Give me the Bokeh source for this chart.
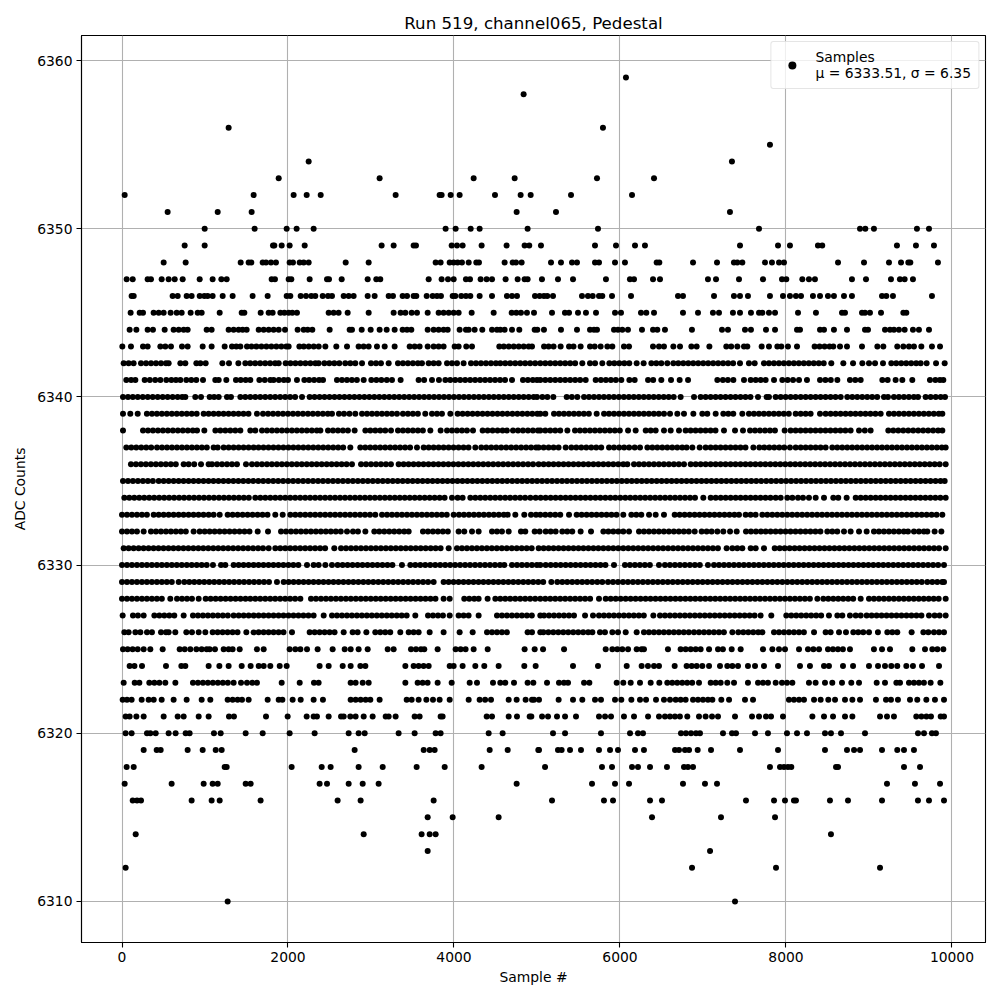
from bokeh.plotting import figure
from bokeh.embed import file_html
from bokeh.resources import INLINE
from bokeh.models import FixedTicker, Range1d, Legend, LegendItem, ColumnDataSource
from bokeh.core.properties import value

title = "Run 519, channel065, Pedestal"
x_label = "Sample #"
y_label = "ADC Counts"
legend_text = "Samples\n\u03bc = 6333.51, \u03c3 = 6.35"
x_ticks = [0, 2000, 4000, 6000, 8000, 10000]
y_ticks = [6310, 6320, 6330, 6340, 6350, 6360]

# Samples, one list per ADC count level
r6359 = [6072]
r6358 = [4839]
r6356 = [1285, 5795]
r6355 = [7807]
r6354 = [2249, 7349]
r6353 = [1888, 3104, 4237, 4731, 5723, 6410]
r6352 = [32, 1586, 2068, 2225, 2394, 3297, 3827, 3851, 3960, 4068, 4494, 4803, 4924, 5410, 6145]
r6351 = [550, 1153, 1562, 4755, 5229, 7325]
r6350 = [996, 1598, 1984, 2104, 2309, 3899, 4020, 4201, 4309, 4887, 5735, 7675, 8892, 8956, 9060, 9578, 9723]
r6349 = [755, 996, 1819, 1835, 1924, 2020, 2201, 3128, 3273, 3514, 3542, 3972, 4036, 4104, 4333, 4634, 4851, 4907, 5048, 5699, 5952, 6181, 6301, 7446, 7904, 8048, 8385, 8437, 9337, 9566, 9783]
r6348 = [502, 767, 1430, 1526, 1558, 1695, 1735, 1795, 1855, 2020, 2060, 2141, 2189, 2249, 2695, 2972, 3779, 3839, 3948, 3996, 4044, 4096, 4177, 4269, 4301, 4610, 4707, 4747, 4815, 5169, 5289, 5422, 5482, 5699, 5747, 5940, 6060, 6442, 6474, 6880, 7169, 7373, 7414, 7474, 7747, 7831, 7916, 7976, 8627, 8940, 9241, 9386, 9474, 9498, 9831]
r6347 = [56, 129, 309, 349, 478, 562, 635, 731, 936, 1092, 1197, 1261, 1803, 1843, 2008, 2040, 2261, 2470, 2494, 2647, 2960, 3064, 3112, 3695, 3851, 3928, 3996, 4144, 4193, 4321, 4393, 4458, 4622, 4767, 4851, 4887, 5060, 5253, 5434, 5831, 6120, 6169, 6398, 6482, 7060, 7157, 7434, 7723, 7952, 8004, 8197, 8277, 8349, 8795, 8964, 9265, 9373, 9430, 9530]
r6346 = [116, 141, 610, 671, 779, 839, 936, 992, 1032, 1092, 1213, 1333, 1574, 1755, 1984, 2028, 2153, 2217, 2281, 2329, 2418, 2482, 2530, 2671, 2731, 2791, 2960, 3044, 3213, 3265, 3381, 3434, 3514, 3546, 3671, 3743, 3795, 3843, 3984, 4016, 4088, 4144, 4197, 4309, 4458, 4638, 4699, 4759, 4976, 5032, 5084, 5124, 5193, 5542, 5614, 5671, 5747, 5787, 5904, 6133, 6699, 6759, 7133, 7373, 7446, 7542, 7807, 7964, 8048, 8120, 8181, 8325, 8410, 8506, 8578, 8699, 8795, 9157, 9209, 9289, 9759]
r6345 = [104, 213, 253, 381, 442, 502, 586, 659, 719, 827, 912, 960, 1177, 1442, 1474, 1671, 1767, 1815, 1908, 1956, 2008, 2052, 2108, 2490, 2550, 2610, 2719, 2972, 3273, 3357, 3414, 3490, 3554, 3683, 3815, 3875, 3936, 3996, 4056, 4213, 4478, 4695, 4751, 4807, 4879, 4964, 5181, 5337, 5386, 5494, 5590, 5711, 5940, 6012, 6253, 6317, 6410, 6759, 6940, 7120, 7193, 7361, 7446, 7578, 7675, 7715, 7795, 7868, 8145, 8361, 8675, 8711, 8916, 8952, 9012, 9145, 9414, 9450]
r6344 = [92, 173, 309, 373, 514, 622, 683, 743, 791, 1020, 1080, 1285, 1345, 1405, 1454, 1502, 1647, 1707, 1767, 1827, 1888, 1964, 2116, 2189, 2237, 2293, 2502, 2743, 2771, 2888, 2996, 3104, 3189, 3285, 3381, 3434, 3486, 3683, 3755, 3815, 3875, 3924, 4068, 4144, 4177, 4249, 4341, 4458, 4518, 4558, 4610, 4699, 4787, 4972, 5004, 5084, 5289, 5482, 5639, 5687, 5723, 5928, 5976, 6028, 6096, 6265, 6398, 6450, 6542, 6867, 7229, 7301, 7506, 7578, 7759, 7868, 8133, 8169, 8410, 8458, 8578, 8735, 8952, 8988, 9193, 9253, 9301, 9361, 9430, 9530, 9602, 9723]
r6343 = [4, 108, 253, 309, 462, 522, 590, 723, 791, 972, 1080, 1237, 1325, 1377, 1426, 1506, 1560, 1620, 1680, 1740, 1800, 1860, 1920, 1980, 2008, 2137, 2190, 2250, 2310, 2370, 2450, 2582, 2711, 2851, 2911, 2972, 3072, 3165, 3285, 3466, 3526, 3586, 3683, 3755, 3815, 3875, 4008, 4056, 4148, 4217, 4546, 4600, 4660, 4720, 4780, 4840, 4900, 4940, 5085, 5140, 5200, 5285, 5386, 5440, 5526, 5639, 5695, 5767, 5848, 5908, 6048, 6109, 6398, 6470, 6530, 6643, 6723, 6860, 6924, 7077, 7281, 7340, 7414, 7494, 7534, 7707, 7795, 7896, 7944, 8024, 8133, 8345, 8405, 8465, 8525, 8570, 8651, 8735, 8916, 9101, 9173, 9341, 9414, 9482, 9542, 9631, 9759, 9856]
r6342 = [20, 80, 140, 229, 290, 350, 410, 470, 530, 562, 703, 763, 896, 944, 1008, 1209, 1289, 1402, 1486, 1545, 1605, 1665, 1725, 1785, 1845, 1888, 1972, 2030, 2090, 2150, 2210, 2270, 2330, 2369, 2438, 2498, 2558, 2618, 2690, 2751, 2811, 2892, 3000, 3060, 3120, 3213, 3325, 3385, 3445, 3505, 3565, 3614, 3695, 3755, 3815, 3916, 3976, 4036, 4116, 4205, 4265, 4325, 4385, 4445, 4505, 4558, 4618, 4678, 4738, 4798, 4858, 4918, 4978, 5040, 5100, 5160, 5220, 5280, 5340, 5400, 5460, 5546, 5639, 5700, 5787, 5872, 5932, 5992, 6052, 6112, 6201, 6285, 6378, 6438, 6498, 6570, 6643, 6703, 6763, 6823, 6883, 6943, 7003, 7063, 7123, 7183, 7243, 7303, 7363, 7446, 7554, 7623, 7735, 7795, 7855, 7915, 7975, 8035, 8095, 8155, 8215, 8275, 8335, 8395, 8455, 8546, 8691, 8808, 8920, 9000, 9073, 9169, 9269, 9329, 9389, 9449, 9509, 9569, 9623, 9695, 9808, 9912]
r6341 = [52, 110, 161, 273, 335, 400, 462, 534, 595, 650, 703, 775, 835, 895, 976, 1124, 1165, 1257, 1373, 1430, 1490, 1546, 1655, 1720, 1787, 1827, 1890, 1950, 2000, 2108, 2197, 2255, 2315, 2375, 2422, 2590, 2650, 2710, 2770, 2830, 2912, 3004, 3065, 3125, 3190, 3253, 3357, 3574, 3640, 3735, 3819, 3896, 3955, 4015, 4075, 4135, 4195, 4255, 4315, 4375, 4435, 4495, 4555, 4615, 4699, 4831, 4890, 4950, 5000, 5040, 5100, 5160, 5220, 5280, 5340, 5400, 5460, 5520, 5587, 5707, 5770, 5830, 5890, 5950, 6016, 6113, 6177, 6338, 6400, 6498, 6615, 6719, 6820, 7173, 7240, 7300, 7366, 7494, 7575, 7635, 7695, 7755, 7856, 7956, 8020, 8085, 8157, 8253, 8410, 8475, 8540, 8619, 8771, 8835, 8900, 9161, 9225, 9321, 9402, 9522, 9735, 9800, 9855, 9896]
r6340 = [12, 72, 130, 190, 250, 310, 370, 430, 490, 550, 610, 670, 725, 763, 883, 952, 1056, 1110, 1165, 1265, 1313, 1426, 1486, 1546, 1606, 1666, 1726, 1786, 1846, 1906, 1966, 2026, 2086, 2169, 2261, 2320, 2380, 2440, 2500, 2560, 2620, 2680, 2740, 2800, 2860, 2920, 2980, 3040, 3100, 3160, 3220, 3280, 3340, 3400, 3460, 3520, 3580, 3640, 3700, 3760, 3820, 3880, 3940, 4000, 4060, 4120, 4180, 4240, 4300, 4360, 4420, 4480, 4540, 4600, 4660, 4720, 4780, 4840, 4900, 4960, 5000, 5065, 5125, 5197, 5358, 5420, 5486, 5567, 5627, 5687, 5747, 5807, 5867, 5927, 5987, 6047, 6107, 6167, 6227, 6287, 6347, 6407, 6467, 6527, 6587, 6647, 6731, 6892, 6972, 7032, 7092, 7152, 7212, 7272, 7332, 7392, 7452, 7512, 7572, 7663, 7767, 7795, 7876, 7936, 7996, 8056, 8116, 8177, 8237, 8297, 8357, 8417, 8477, 8537, 8597, 8659, 8739, 8799, 8859, 8919, 8979, 9039, 9099, 9181, 9229, 9301, 9361, 9421, 9481, 9541, 9591, 9683, 9743, 9804, 9864, 9916]
r6339 = [12, 100, 189, 300, 361, 420, 480, 540, 600, 660, 720, 780, 840, 900, 984, 1044, 1104, 1164, 1224, 1284, 1344, 1404, 1464, 1524, 1626, 1699, 1760, 1820, 1880, 1940, 2000, 2060, 2120, 2180, 2240, 2300, 2360, 2420, 2480, 2530, 2614, 2675, 2740, 2811, 2892, 2952, 3012, 3072, 3132, 3192, 3252, 3313, 3385, 3445, 3505, 3565, 3654, 3735, 3795, 3855, 3956, 4044, 4104, 4164, 4224, 4284, 4344, 4404, 4464, 4524, 4584, 4644, 4704, 4764, 4824, 4884, 4944, 5004, 5040, 5100, 5205, 5265, 5325, 5385, 5445, 5505, 5565, 5625, 5719, 5808, 5868, 5928, 5988, 6048, 6108, 6168, 6228, 6288, 6348, 6408, 6468, 6530, 6603, 6691, 6771, 6884, 6992, 7052, 7153, 7245, 7305, 7365, 7474, 7554, 7614, 7674, 7734, 7794, 7854, 7914, 7974, 8034, 8117, 8177, 8237, 8297, 8410, 8478, 8538, 8598, 8658, 8718, 8778, 8838, 8898, 8958, 9018, 9078, 9141, 9241, 9301, 9361, 9421, 9481, 9541, 9601, 9661, 9721, 9781, 9841, 9884]
r6338 = [12, 253, 313, 373, 433, 493, 553, 613, 673, 733, 793, 853, 904, 992, 1125, 1185, 1245, 1305, 1365, 1426, 1546, 1606, 1687, 1747, 1807, 1867, 1927, 1987, 2047, 2107, 2167, 2227, 2287, 2347, 2390, 2482, 2542, 2602, 2662, 2722, 2803, 2932, 2992, 3052, 3112, 3172, 3241, 3325, 3385, 3445, 3505, 3565, 3625, 3715, 3839, 3916, 3976, 4036, 4096, 4156, 4229, 4345, 4405, 4465, 4525, 4585, 4638, 4711, 4771, 4831, 4891, 4951, 5011, 5040, 5100, 5160, 5220, 5280, 5366, 5458, 5518, 5578, 5638, 5698, 5758, 5818, 5878, 5938, 5998, 6097, 6189, 6310, 6370, 6430, 6530, 6611, 6711, 6791, 6851, 6911, 6971, 7031, 7091, 7151, 7253, 7386, 7482, 7567, 7627, 7687, 7747, 7807, 7867, 7984, 8056, 8116, 8176, 8236, 8296, 8356, 8416, 8476, 8536, 8596, 8656, 8716, 8779, 8880, 8950, 9020, 9233, 9293, 9353, 9413, 9473, 9533, 9593, 9653, 9713, 9773, 9833, 9884]
r6337 = [52, 112, 172, 232, 292, 352, 422, 482, 542, 602, 662, 722, 782, 842, 902, 962, 1022, 1104, 1153, 1225, 1285, 1345, 1405, 1465, 1525, 1585, 1645, 1705, 1765, 1825, 1885, 1945, 2005, 2065, 2125, 2185, 2245, 2305, 2365, 2425, 2485, 2545, 2605, 2665, 2751, 2871, 2931, 2991, 3051, 3111, 3171, 3231, 3291, 3351, 3411, 3471, 3554, 3635, 3695, 3755, 3815, 3875, 3935, 3995, 4055, 4115, 4175, 4257, 4329, 4389, 4449, 4509, 4569, 4629, 4689, 4749, 4809, 4869, 4929, 4989, 5020, 5080, 5140, 5200, 5260, 5346, 5414, 5474, 5534, 5594, 5654, 5714, 5774, 5868, 5928, 5990, 6050, 6110, 6177, 6241, 6330, 6390, 6450, 6510, 6570, 6630, 6690, 6750, 6803, 6872, 6960, 7032, 7092, 7152, 7212, 7272, 7332, 7392, 7452, 7512, 7607, 7679, 7739, 7799, 7859, 7919, 7979, 8048, 8117, 8177, 8237, 8297, 8357, 8417, 8478, 8558, 8618, 8678, 8738, 8798, 8858, 8918, 8978, 9038, 9098, 9158, 9218, 9278, 9338, 9398, 9458, 9518, 9578, 9638, 9698, 9758, 9818, 9878, 9924]
r6336 = [108, 168, 228, 288, 348, 408, 468, 528, 588, 648, 743, 803, 870, 952, 1044, 1084, 1145, 1205, 1265, 1325, 1385, 1494, 1566, 1626, 1686, 1746, 1806, 1866, 1926, 1986, 2046, 2106, 2166, 2226, 2286, 2346, 2406, 2466, 2526, 2586, 2646, 2706, 2771, 2880, 2940, 3000, 3060, 3120, 3180, 3240, 3333, 3393, 3453, 3513, 3573, 3633, 3693, 3753, 3813, 3873, 3933, 3993, 4053, 4113, 4173, 4233, 4293, 4353, 4413, 4473, 4533, 4593, 4653, 4713, 4773, 4833, 4893, 4953, 5020, 5080, 5140, 5200, 5260, 5320, 5380, 5440, 5500, 5560, 5620, 5680, 5740, 5800, 5860, 5920, 5980, 6040, 6089, 6169, 6229, 6289, 6349, 6409, 6469, 6529, 6589, 6649, 6709, 6771, 6852, 6912, 6972, 7032, 7092, 7152, 7212, 7272, 7332, 7392, 7452, 7512, 7572, 7632, 7692, 7752, 7812, 7872, 7932, 7992, 8052, 8112, 8172, 8232, 8292, 8352, 8412, 8472, 8532, 8592, 8652, 8712, 8772, 8832, 8892, 8952, 9012, 9072, 9132, 9192, 9252, 9312, 9372, 9432, 9492, 9552, 9612, 9672, 9732, 9792, 9852, 9924]
r6335 = [12, 72, 132, 192, 252, 312, 372, 442, 502, 562, 622, 682, 742, 802, 862, 922, 982, 1042, 1102, 1162, 1222, 1282, 1342, 1402, 1462, 1522, 1582, 1642, 1702, 1762, 1822, 1882, 1942, 2002, 2062, 2122, 2182, 2242, 2302, 2362, 2422, 2482, 2542, 2602, 2662, 2722, 2782, 2842, 2902, 2962, 3022, 3082, 3142, 3202, 3262, 3322, 3382, 3442, 3502, 3562, 3622, 3682, 3742, 3802, 3862, 3922, 3982, 4042, 4102, 4162, 4222, 4282, 4342, 4402, 4462, 4522, 4582, 4642, 4702, 4762, 4822, 4882, 4942, 5002, 5062, 5122, 5182, 5242, 5302, 5362, 5422, 5482, 5542, 5602, 5662, 5722, 5782, 5842, 5902, 5962, 6022, 6082, 6142, 6202, 6262, 6322, 6382, 6442, 6502, 6562, 6622, 6682, 6742, 6802, 6862, 6922, 6982, 7042, 7102, 7162, 7222, 7282, 7342, 7402, 7462, 7522, 7582, 7642, 7702, 7762, 7822, 7882, 7942, 8002, 8062, 8122, 8182, 8242, 8302, 8362, 8422, 8482, 8542, 8602, 8662, 8722, 8782, 8842, 8902, 8962, 9022, 9082, 9142, 9202, 9262, 9322, 9382, 9442, 9502, 9562, 9622, 9682, 9742, 9802, 9862, 9912]
r6334 = [28, 88, 148, 208, 268, 328, 388, 448, 508, 568, 628, 688, 748, 808, 868, 928, 988, 1048, 1108, 1168, 1228, 1288, 1348, 1408, 1468, 1528, 1606, 1667, 1727, 1787, 1847, 1907, 1967, 2027, 2087, 2147, 2207, 2267, 2327, 2387, 2447, 2507, 2567, 2627, 2687, 2747, 2807, 2867, 2927, 2987, 3047, 3107, 3167, 3227, 3287, 3347, 3407, 3467, 3527, 3587, 3647, 3707, 3767, 3827, 3887, 3976, 4044, 4104, 4197, 4257, 4317, 4377, 4437, 4497, 4557, 4617, 4677, 4737, 4797, 4857, 4920, 4984, 5044, 5104, 5164, 5224, 5284, 5344, 5404, 5464, 5524, 5584, 5644, 5704, 5764, 5824, 5884, 5944, 6004, 6064, 6124, 6184, 6244, 6304, 6364, 6424, 6484, 6544, 6604, 6664, 6724, 6784, 6844, 6904, 7004, 7093, 7153, 7213, 7273, 7333, 7393, 7453, 7513, 7573, 7633, 7693, 7753, 7813, 7876, 7936, 8016, 8077, 8145, 8205, 8277, 8358, 8458, 8570, 8630, 8731, 8840, 8900, 8960, 9020, 9080, 9140, 9200, 9260, 9320, 9380, 9440, 9500, 9560, 9620, 9680, 9740, 9800, 9860, 9924]
r6333 = [0, 60, 120, 180, 240, 300, 382, 442, 502, 562, 622, 682, 742, 802, 862, 922, 982, 1044, 1104, 1177, 1273, 1333, 1393, 1453, 1513, 1573, 1633, 1693, 1753, 1847, 1936, 2028, 2088, 2148, 2208, 2268, 2328, 2388, 2448, 2508, 2568, 2628, 2688, 2748, 2808, 2868, 2928, 2988, 3052, 3133, 3193, 3253, 3313, 3373, 3433, 3493, 3553, 3613, 3673, 3733, 3793, 3853, 3913, 3996, 4060, 4120, 4180, 4240, 4300, 4360, 4420, 4480, 4540, 4600, 4647, 4739, 4847, 4928, 4988, 5040, 5100, 5160, 5220, 5280, 5386, 5478, 5538, 5598, 5658, 5718, 5778, 5838, 5898, 5958, 6040, 6137, 6197, 6257, 6350, 6430, 6530, 6659, 6719, 6779, 6839, 6899, 6959, 7019, 7079, 7139, 7199, 7259, 7319, 7379, 7434, 7514, 7574, 7634, 7715, 7775, 7835, 7895, 7955, 8015, 8075, 8135, 8195, 8255, 8315, 8375, 8435, 8495, 8555, 8615, 8675, 8735, 8795, 8855, 8915, 8975, 9035, 9095, 9155, 9215, 9275, 9335, 9395, 9455, 9515, 9575, 9635, 9695, 9755, 9815, 9884]
r6332 = [0, 60, 120, 180, 261, 349, 409, 469, 529, 589, 649, 709, 769, 863, 936, 996, 1056, 1116, 1176, 1236, 1296, 1356, 1416, 1476, 1536, 1635, 1759, 1916, 1976, 2036, 2096, 2156, 2216, 2276, 2336, 2396, 2456, 2516, 2576, 2636, 2711, 2783, 2843, 2932, 3040, 3100, 3160, 3220, 3280, 3340, 3400, 3454, 3626, 3686, 3746, 3806, 3866, 3926, 4056, 4124, 4217, 4297, 4458, 4518, 4578, 4659, 4807, 4859, 4972, 5032, 5105, 5165, 5225, 5305, 5365, 5425, 5526, 5651, 5800, 5860, 5920, 5980, 6040, 6109, 6229, 6289, 6349, 6409, 6469, 6529, 6589, 6649, 6709, 6769, 6829, 6900, 6984, 7044, 7104, 7173, 7245, 7326, 7406, 7518, 7578, 7638, 7698, 7755, 7815, 7875, 7935, 7995, 8055, 8115, 8175, 8235, 8295, 8355, 8415, 8498, 8558, 8618, 8699, 8779, 8880, 8972, 9060, 9120, 9180, 9240, 9300, 9360, 9420, 9470, 9542, 9602, 9662, 9703, 9791, 9872]
r6331 = [20, 80, 140, 200, 260, 320, 380, 440, 500, 560, 620, 680, 740, 800, 860, 920, 980, 1040, 1100, 1160, 1220, 1280, 1340, 1400, 1460, 1520, 1580, 1640, 1699, 1767, 1847, 1907, 1967, 2027, 2087, 2147, 2207, 2267, 2327, 2387, 2447, 2558, 2639, 2699, 2759, 2819, 2879, 2939, 2999, 3059, 3119, 3179, 3239, 3299, 3359, 3419, 3479, 3539, 3599, 3659, 3719, 3779, 3839, 3936, 4036, 4096, 4156, 4216, 4276, 4336, 4396, 4456, 4516, 4576, 4636, 4696, 4756, 4816, 4876, 4936, 5020, 5080, 5140, 5200, 5260, 5320, 5380, 5440, 5500, 5560, 5620, 5680, 5740, 5800, 5860, 5920, 5980, 6040, 6100, 6160, 6220, 6280, 6340, 6400, 6460, 6520, 6580, 6640, 6700, 6760, 6820, 6880, 6940, 7000, 7060, 7120, 7180, 7285, 7354, 7414, 7474, 7575, 7635, 7735, 7864, 7924, 7984, 8044, 8104, 8164, 8224, 8284, 8344, 8404, 8464, 8524, 8584, 8644, 8704, 8764, 8824, 8884, 8944, 9004, 9064, 9124, 9184, 9244, 9304, 9364, 9424, 9484, 9544, 9604, 9664, 9724, 9784, 9844, 9924]
r6330 = [0, 60, 120, 180, 240, 300, 360, 420, 480, 540, 600, 660, 720, 780, 840, 900, 960, 1020, 1096, 1193, 1245, 1345, 1405, 1465, 1525, 1585, 1645, 1705, 1765, 1825, 1885, 1945, 2005, 2065, 2125, 2229, 2309, 2369, 2450, 2530, 2598, 2658, 2718, 2778, 2838, 2898, 2958, 3018, 3078, 3138, 3198, 3258, 3373, 3474, 3534, 3594, 3654, 3714, 3774, 3834, 3894, 3954, 4014, 4074, 4134, 4194, 4254, 4314, 4374, 4434, 4494, 4554, 4606, 4699, 4759, 4819, 4879, 4939, 4999, 5040, 5105, 5165, 5225, 5285, 5345, 5405, 5465, 5525, 5585, 5645, 5705, 5765, 5825, 5928, 6060, 6120, 6180, 6240, 6300, 6360, 6470, 6542, 6602, 6662, 6722, 6782, 6842, 6902, 6962, 7060, 7133, 7193, 7253, 7313, 7373, 7433, 7493, 7553, 7613, 7673, 7733, 7793, 7853, 7913, 7973, 8033, 8093, 8153, 8213, 8273, 8333, 8393, 8453, 8513, 8573, 8633, 8693, 8753, 8813, 8873, 8933, 8993, 9053, 9113, 9173, 9233, 9293, 9353, 9413, 9473, 9533, 9593, 9653, 9713, 9773, 9833, 9904]
r6329 = [0, 60, 120, 180, 240, 300, 360, 420, 480, 540, 600, 683, 751, 811, 871, 931, 991, 1051, 1111, 1171, 1231, 1291, 1351, 1411, 1471, 1531, 1591, 1651, 1711, 1771, 1867, 1948, 2008, 2068, 2128, 2188, 2248, 2308, 2368, 2428, 2488, 2548, 2608, 2668, 2728, 2788, 2848, 2908, 2968, 3028, 3088, 3148, 3208, 3268, 3328, 3388, 3448, 3508, 3568, 3628, 3688, 3755, 3875, 3935, 3995, 4055, 4115, 4175, 4235, 4295, 4355, 4415, 4475, 4535, 4595, 4655, 4715, 4775, 4835, 4895, 4955, 5015, 5075, 5173, 5245, 5305, 5365, 5425, 5485, 5545, 5605, 5665, 5727, 5787, 5856, 5916, 5976, 6036, 6096, 6156, 6216, 6276, 6336, 6396, 6456, 6516, 6576, 6636, 6696, 6756, 6816, 6876, 6936, 6996, 7056, 7116, 7176, 7236, 7296, 7356, 7416, 7476, 7536, 7596, 7656, 7716, 7776, 7836, 7896, 7956, 8016, 8076, 8136, 8196, 8256, 8316, 8376, 8436, 8496, 8556, 8616, 8676, 8736, 8796, 8856, 8916, 8976, 9036, 9096, 9156, 9216, 9276, 9336, 9396, 9456, 9516, 9576, 9636, 9703, 9763, 9823, 9883, 9904]
r6328 = [0, 60, 120, 180, 240, 300, 360, 420, 480, 582, 663, 723, 783, 843, 924, 1008, 1068, 1128, 1188, 1248, 1308, 1368, 1428, 1488, 1546, 1606, 1666, 1726, 1786, 1846, 1906, 1966, 2026, 2086, 2149, 2277, 2337, 2397, 2457, 2517, 2577, 2637, 2697, 2757, 2817, 2877, 2937, 2997, 3057, 3117, 3177, 3237, 3297, 3357, 3417, 3477, 3537, 3597, 3657, 3717, 3777, 3875, 3948, 4124, 4184, 4244, 4297, 4405, 4498, 4558, 4618, 4678, 4738, 4798, 4858, 4918, 4978, 5040, 5100, 5160, 5220, 5280, 5340, 5400, 5460, 5520, 5580, 5640, 5747, 5828, 5888, 5948, 6008, 6068, 6128, 6188, 6248, 6308, 6368, 6428, 6488, 6548, 6608, 6668, 6728, 6788, 6848, 6908, 6968, 7028, 7088, 7148, 7208, 7268, 7328, 7388, 7448, 7508, 7568, 7628, 7688, 7748, 7808, 7868, 7928, 7988, 8048, 8108, 8168, 8228, 8288, 8378, 8450, 8510, 8570, 8630, 8690, 8750, 8810, 8900, 9000, 9060, 9120, 9180, 9240, 9300, 9360, 9420, 9480, 9540, 9600, 9660, 9720, 9780, 9840, 9924]
r6327 = [8, 132, 192, 261, 390, 450, 510, 570, 630, 743, 855, 915, 975, 1035, 1095, 1155, 1215, 1275, 1345, 1406, 1466, 1526, 1586, 1646, 1706, 1766, 1826, 1886, 1946, 2006, 2066, 2126, 2186, 2246, 2309, 2430, 2530, 2590, 2650, 2710, 2770, 2830, 2890, 2950, 3010, 3070, 3130, 3190, 3250, 3310, 3370, 3430, 3534, 3687, 3747, 3807, 3867, 3948, 4056, 4116, 4176, 4297, 4518, 4578, 4638, 4698, 4758, 4818, 4878, 4938, 5040, 5085, 5145, 5205, 5265, 5325, 5385, 5446, 5579, 5675, 5747, 5807, 5867, 5927, 5987, 6047, 6107, 6167, 6227, 6287, 6402, 6482, 6542, 6602, 6662, 6722, 6782, 6842, 6902, 6962, 7022, 7082, 7142, 7202, 7262, 7322, 7382, 7442, 7502, 7562, 7622, 7695, 7823, 8004, 8064, 8124, 8184, 8244, 8304, 8364, 8424, 8518, 8619, 8679, 8771, 8840, 8900, 8972, 9032, 9092, 9152, 9212, 9272, 9332, 9392, 9452, 9512, 9572, 9632, 9723, 9791, 9851, 9924]
r6326 = [28, 80, 161, 221, 301, 361, 470, 530, 562, 642, 775, 843, 924, 1004, 1092, 1152, 1212, 1272, 1332, 1392, 1498, 1586, 1646, 1706, 1766, 1826, 1886, 1946, 2048, 2261, 2321, 2381, 2441, 2501, 2561, 2671, 2779, 2839, 2944, 3052, 3112, 3172, 3232, 3353, 3454, 3514, 3574, 3707, 3875, 4068, 4225, 4398, 4458, 4518, 4578, 4638, 4887, 4940, 5040, 5077, 5137, 5197, 5257, 5317, 5377, 5437, 5497, 5557, 5617, 5667, 5759, 5819, 5908, 5976, 6069, 6201, 6289, 6349, 6409, 6469, 6529, 6589, 6649, 6709, 6769, 6829, 6892, 6952, 7012, 7072, 7132, 7192, 7252, 7354, 7426, 7486, 7546, 7606, 7666, 7715, 7856, 7916, 7976, 8036, 8096, 8156, 8216, 8338, 8478, 8538, 8639, 8723, 8811, 8871, 8931, 9000, 9108, 9221, 9281, 9341, 9514, 9655, 9715, 9783, 9844, 9904]
r6325 = [12, 68, 128, 189, 261, 341, 490, 695, 755, 823, 896, 960, 1020, 1056, 1120, 1225, 1285, 1333, 1418, 1626, 1707, 2020, 2088, 2149, 2229, 2357, 2538, 2683, 2755, 2851, 2960, 3201, 3273, 3482, 3542, 3602, 3642, 3803, 4020, 4080, 4140, 4237, 4406, 4851, 4972, 5073, 5326, 5828, 5908, 5968, 6028, 6097, 6201, 6260, 6289, 6578, 6731, 6791, 6852, 6912, 6972, 7073, 7181, 7240, 7346, 7454, 7723, 7836, 7916, 7988, 8157, 8265, 8330, 8398, 8506, 8566, 8626, 8686, 8771, 9060, 9157, 9253, 9522, 9675, 9763, 9824, 9896]
r6324 = [92, 150, 241, 530, 715, 763, 1044, 1173, 1285, 1442, 1550, 1647, 1707, 1787, 1900, 1984, 2381, 2490, 2659, 2755, 2872, 2932, 3414, 3514, 3574, 3634, 3695, 3948, 3996, 4104, 4257, 4365, 4538, 4847, 4984, 5434, 5735, 6081, 6261, 6337, 6410, 6470, 6659, 6803, 6864, 6924, 6992, 7073, 7205, 7293, 7354, 7422, 7542, 7627, 7735, 7904, 8169, 8289, 8458, 8518, 8687, 8808, 9000, 9109, 9193, 9269, 9341, 9450, 9530, 9639, 9844]
r6323 = [20, 153, 209, 329, 390, 450, 522, 643, 855, 915, 975, 1035, 1095, 1155, 1215, 1275, 1345, 1434, 1506, 1570, 1626, 1924, 2141, 2313, 2369, 2755, 2815, 2900, 2972, 3414, 3562, 3622, 3682, 3803, 3972, 4189, 4277, 4470, 4558, 4618, 4723, 4887, 4956, 5121, 5265, 5325, 5374, 5567, 5631, 5960, 6040, 6129, 6241, 6370, 6474, 6570, 6630, 6690, 6750, 6810, 6870, 6952, 7093, 7153, 7213, 7293, 7374, 7542, 7663, 7723, 7783, 7876, 7952, 8012, 8077, 8277, 8357, 8470, 8558, 8675, 8787, 8880, 9093, 9193, 9330, 9374, 9482, 9542, 9602, 9662, 9743, 9860]
r6322 = [8, 60, 116, 237, 321, 382, 478, 622, 779, 960, 1064, 1273, 1333, 1393, 1446, 1526, 1755, 1888, 1932, 2056, 2153, 2309, 2421, 2755, 2815, 2875, 2935, 2992, 3104, 3430, 3490, 3574, 3667, 3747, 3827, 3948, 4177, 4309, 4375, 4446, 4659, 4755, 4863, 4940, 4964, 5024, 5261, 5434, 5546, 5699, 5771, 5940, 6016, 6137, 6241, 6314, 6434, 6530, 6603, 6671, 6731, 6791, 6880, 6940, 7000, 7060, 7113, 7221, 7314, 7506, 7603, 8036, 8096, 8157, 8217, 8338, 8418, 8510, 8591, 8711, 8800, 8892, 9084, 9205, 9265, 9349, 9494, 9582, 9691, 9795, 9904]
r6321 = [44, 92, 173, 261, 502, 671, 743, 924, 1044, 1289, 1349, 1735, 1996, 2225, 2309, 2349, 2490, 2639, 2671, 2751, 2815, 2912, 3020, 3177, 3213, 3297, 3526, 3586, 3839, 3863, 4394, 4458, 4659, 4759, 4912, 4932, 5061, 5133, 5241, 5338, 5470, 5747, 5820, 5892, 6048, 6169, 6338, 6470, 6542, 6602, 6662, 6722, 6811, 6952, 7032, 7109, 7181, 7386, 7591, 7675, 7759, 7820, 7964, 8318, 8458, 8567, 8711, 8800, 9133, 9217, 9301, 9570, 9632, 9692, 9747, 9864, 9904]
r6320 = [44, 116, 301, 341, 406, 562, 646, 767, 815, 1108, 1189, 1490, 1695, 2020, 2321, 2731, 2851, 2924, 3333, 3526, 3779, 3839, 4418, 4586, 5193, 5338, 5771, 6121, 6217, 6277, 6735, 6795, 6856, 6916, 6964, 7241, 7350, 7398, 7627, 7783, 8012, 8133, 8253, 8470, 8542, 8663, 8952, 9591, 9663, 9759, 9807]
r6319 = [261, 418, 466, 791, 972, 1129, 1201, 2803, 3635, 3707, 3767, 4430, 4647, 5016, 5024, 5253, 5297, 5398, 5530, 5747, 5880, 5976, 6181, 6289, 6663, 6711, 6783, 6832, 6936, 7097, 7446, 7904, 8470, 8735, 8820, 8892, 9157, 9341, 9422, 9542]
r6318 = [56, 141, 1237, 1261, 2044, 2406, 2514, 2851, 3141, 3550, 3888, 4333, 5097, 5783, 5904, 6145, 6217, 6362, 6566, 6771, 6819, 6880, 7807, 7928, 7976, 8024, 8064, 8603, 8627, 9422, 9615]
r6317 = [32, 598, 984, 1092, 1153, 1490, 1550, 2381, 2470, 2731, 2900, 3092, 4755, 5663, 5940, 6109, 6759, 7024, 7169, 9217, 9554, 9856]
r6316 = [129, 181, 229, 839, 1080, 1177, 1670, 2598, 2875, 3755, 5181, 5807, 5916, 6362, 6506, 7518, 7856, 7988, 8096, 8120, 8530, 8747, 9157, 9590, 9723, 9904]
r6315 = [3683, 3984, 4538, 6386, 7217, 7868]
r6314 = [165, 2912, 3610, 3707, 3779, 8542]
r6313 = [3683, 7085]
r6312 = [44, 6868, 7880, 9133]
r6310 = [1273, 7386]

levels = {6359: r6359, 6358: r6358, 6356: r6356, 6355: r6355, 6354: r6354, 6353: r6353,
          6352: r6352, 6351: r6351, 6350: r6350, 6349: r6349, 6348: r6348, 6347: r6347,
          6346: r6346, 6345: r6345, 6344: r6344, 6343: r6343, 6342: r6342, 6341: r6341,
          6340: r6340, 6339: r6339, 6338: r6338, 6337: r6337, 6336: r6336, 6335: r6335,
          6334: r6334, 6333: r6333, 6332: r6332, 6331: r6331, 6330: r6330, 6329: r6329,
          6328: r6328, 6327: r6327, 6326: r6326, 6325: r6325, 6324: r6324, 6323: r6323,
          6322: r6322, 6321: r6321, 6320: r6320, 6319: r6319, 6318: r6318, 6317: r6317,
          6316: r6316, 6315: r6315, 6314: r6314, 6313: r6313, 6312: r6312, 6310: r6310}

xs, ys = [], []
for level, samples in levels.items():
    xs += samples
    ys += [level] * len(samples)
source = ColumnDataSource(dict(x=xs, y=ys))

p = figure(width=1000, height=1000, output_backend="svg", toolbar_location=None,
           x_range=Range1d(-488, 10404), y_range=Range1d(6307.56, 6361.49),
           min_border_left=81, min_border_right=15, min_border_top=35, min_border_bottom=58,
           x_axis_label=x_label, y_axis_label=y_label, title=title)
p.title.align = "center"
p.title.text_font = "DejaVu Sans"
p.title.text_font_size = "16.67px"
p.title.text_font_style = "normal"
p.title.text_color = "black"
p.title.standoff = 6

for ax, ticks in ((p.xaxis[0], x_ticks), (p.yaxis[0], y_ticks)):
    ax.ticker = FixedTicker(ticks=ticks)
    ax.axis_label_text_font = "DejaVu Sans"
    ax.axis_label_text_font_size = "13.89px"
    ax.axis_label_text_font_style = "normal"
    ax.axis_label_text_color = "black"
    ax.major_label_text_font = "DejaVu Sans"
    ax.major_label_text_font_size = "13.89px"
    ax.major_label_text_color = "black"
    ax.major_tick_line_color = "black"
    ax.major_tick_line_width = 1.1
    ax.major_tick_out = 5
    ax.major_tick_in = 0
    ax.minor_tick_line_color = None
    ax.axis_line_color = "black"
    ax.axis_line_width = 1.1
p.xaxis[0].axis_label_standoff = 4
p.yaxis[0].axis_label_standoff = 6
p.yaxis[0].major_label_standoff = 4
p.xaxis[0].major_label_standoff = 4

for g, ticks in ((p.xgrid[0], x_ticks), (p.ygrid[0], y_ticks)):
    g.grid_line_color = "#b0b0b0"
    g.grid_line_width = 1.1
    g.ticker = FixedTicker(ticks=ticks)

p.outline_line_color = "black"
p.outline_line_width = 1.1
p.background_fill_color = "white"
p.border_fill_color = "white"

r = p.scatter("x", "y", source=source, size=6, color="black", line_color=None)

legend = Legend(items=[LegendItem(label=value(legend_text), renderers=[r])],
                location="top_right", margin=6, padding=7, spacing=0,
                label_text_font="DejaVu Sans", label_text_font_size="13.89px",
                label_text_color="black", glyph_width=27, glyph_height=20,
                label_standoff=10, border_line_color="#cccccc", border_line_width=1,
                background_fill_alpha=0.8, border_radius=3)
p.add_layout(legend)

html = file_html(p, INLINE)
open("out.html", "w").write(html)
